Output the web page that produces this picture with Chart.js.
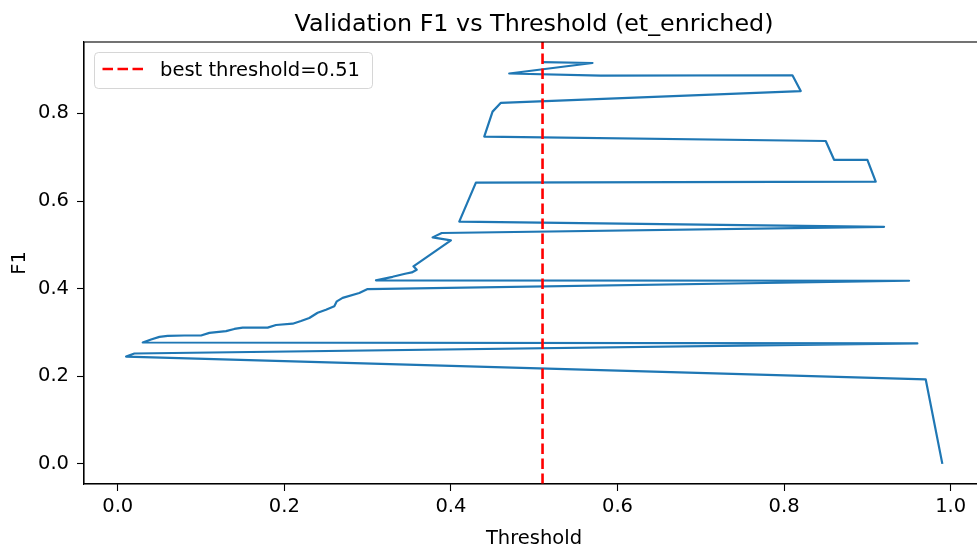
<!DOCTYPE html>
<html lang="en">
<head>
<meta charset="UTF-8">
<title>Validation F1 vs Threshold</title>
<script src="https://cdn.jsdelivr.net/npm/chart.js"></script>
<style>
  html, body { margin: 0; padding: 0; background: #fff; overflow: hidden; }
  #wrap { width: 977px; height: 548px; overflow: hidden; }
</style>
</head>
<body>
<div id="wrap"><canvas id="f1Chart" width="990" height="548"></canvas></div>
<script>
// threshold sweep, in the order the runs were logged
const thresholds = [0.99, 0.97, 0.01, 0.02, 0.96, 0.03, 0.04, 0.05, 0.06, 0.08,
  0.10, 0.11, 0.13, 0.14, 0.15, 0.18, 0.19, 0.21, 0.22, 0.23,
  0.24, 0.25, 0.26, 0.263, 0.27, 0.29, 0.30, 0.95, 0.31, 0.33,
  0.345, 0.353, 0.359, 0.355, 0.40, 0.378, 0.389, 0.92, 0.41, 0.43,
  0.91, 0.90, 0.86, 0.85, 0.44, 0.45, 0.46, 0.82, 0.81, 0.58,
  0.47, 0.57, 0.51];
const f1Scores = [0.000, 0.193, 0.245, 0.252, 0.275, 0.277, 0.284, 0.290, 0.292, 0.293,
  0.293, 0.299, 0.303, 0.308, 0.311, 0.311, 0.317, 0.320, 0.326, 0.333,
  0.345, 0.352, 0.360, 0.371, 0.379, 0.390, 0.399, 0.418, 0.419, 0.427,
  0.434, 0.437, 0.443, 0.451, 0.510, 0.517, 0.527, 0.541, 0.553, 0.642,
  0.644, 0.694, 0.694, 0.737, 0.747, 0.804, 0.824, 0.851, 0.887, 0.886,
  0.891, 0.915, 0.917];
const bestThreshold = 0.51;

const xTicks = [0.0, 0.2, 0.4, 0.6, 0.8, 1.0];
const yTicks = [0.0, 0.2, 0.4, 0.6, 0.8];

const chartTitle = 'Validation F1 vs Threshold (et_enriched)';
const xLabel = 'Threshold';
const yLabel = 'F1';

const xMin = -0.0405, xMax = 1.040;
const yMin = -0.0459, yMax = 0.9629;

const FONT = '"DejaVu Sans", sans-serif';

// frame, title, axis labels and the legend box
const decorations = {
  id: 'decorations',
  afterDraw(chart) {
    const ctx = chart.ctx;
    const a = chart.chartArea;
    ctx.save();
    ctx.strokeStyle = '#000';
    ctx.lineWidth = 1.1;
    ctx.strokeRect(a.left, a.top, a.right - a.left, a.bottom - a.top);

    const cx = (a.left + a.right) / 2;
    ctx.fillStyle = '#000';
    ctx.textAlign = 'center';
    ctx.textBaseline = 'alphabetic';
    ctx.font = '23.8px ' + FONT;
    ctx.fillText(chartTitle, cx, 30.5);

    ctx.font = '19.5px ' + FONT;
    ctx.fillText(xLabel, cx, 544);
    ctx.save();
    ctx.translate(25, (a.top + a.bottom) / 2);
    ctx.rotate(-Math.PI / 2);
    ctx.fillText(yLabel, 0, 0);
    ctx.restore();

    // legend
    const lx = 94.5, ly = 52.5, lw = 278, lh = 36, r = 4;
    ctx.beginPath();
    ctx.moveTo(lx + r, ly);
    ctx.lineTo(lx + lw - r, ly);
    ctx.quadraticCurveTo(lx + lw, ly, lx + lw, ly + r);
    ctx.lineTo(lx + lw, ly + lh - r);
    ctx.quadraticCurveTo(lx + lw, ly + lh, lx + lw - r, ly + lh);
    ctx.lineTo(lx + r, ly + lh);
    ctx.quadraticCurveTo(lx, ly + lh, lx, ly + lh - r);
    ctx.lineTo(lx, ly + r);
    ctx.quadraticCurveTo(lx, ly, lx + r, ly);
    ctx.closePath();
    ctx.fillStyle = 'rgba(255,255,255,0.8)';
    ctx.fill();
    ctx.strokeStyle = 'rgba(204,204,204,0.8)';
    ctx.lineWidth = 1;
    ctx.stroke();

    ctx.beginPath();
    ctx.setLineDash([10.5, 4.5]);
    ctx.lineCap = 'butt';
    ctx.strokeStyle = '#ff0000';
    ctx.lineWidth = 2.6;
    ctx.moveTo(102.5, 69);
    ctx.lineTo(143.5, 69);
    ctx.stroke();
    ctx.setLineDash([]);

    ctx.fillStyle = '#000';
    ctx.textAlign = 'left';
    ctx.font = '19.5px ' + FONT;
    ctx.fillText('best threshold=' + bestThreshold.toFixed(2), 160, 75.5);
    ctx.restore();
  }
};

const points = thresholds.map((t, i) => ({ x: t, y: f1Scores[i] }));

const axisCommon = {
  type: 'linear',
  grid: { drawOnChartArea: false, tickLength: 7, tickColor: '#000', tickWidth: 1.1 },
  border: { color: '#000', width: 1.1 },
};

new Chart(document.getElementById('f1Chart'), {
  type: 'scatter',
  data: {
    datasets: [
      {
        label: 'best threshold=' + bestThreshold.toFixed(2),
        data: [{ x: bestThreshold, y: yMin }, { x: bestThreshold, y: yMax }],
        showLine: true,
        borderColor: '#ff0000',
        borderWidth: 2.6,
        borderDash: [10.5, 4.5],
        borderCapStyle: 'butt',
        pointRadius: 0,
        order: 0
      },
      {
        label: 'F1',
        data: points,
        showLine: true,
        borderColor: '#1f77b4',
        borderWidth: 2.2,
        borderJoinStyle: 'round',
        pointRadius: 0,
        tension: 0,
        order: 1
      }
    ]
  },
  options: {
    responsive: false,
    animation: false,
    layout: { padding: { top: 42, left: 0, right: 6, bottom: 0 } },
    plugins: {
      legend: { display: false },
      title: { display: false },
      tooltip: { enabled: false }
    },
    scales: {
      x: {
        ...axisCommon,
        min: xMin,
        max: xMax,
        afterFit(scale) { scale.height = 64; },
        afterBuildTicks(scale) { scale.ticks = xTicks.map(v => ({ value: v })); },
        ticks: {
          color: '#000',
          padding: 4,
          maxRotation: 0,
          font: { family: FONT, size: 19.5 },
          callback: v => Number(v).toFixed(1)
        }
      },
      y: {
        ...axisCommon,
        min: yMin,
        max: yMax,
        afterFit(scale) { scale.width = 84; },
        afterBuildTicks(scale) { scale.ticks = yTicks.map(v => ({ value: v })); },
        ticks: {
          color: '#000',
          padding: 8,
          font: { family: FONT, size: 19.5 },
          callback: v => Number(v).toFixed(1)
        }
      }
    }
  },
  plugins: [decorations]
});
</script>
</body>
</html>
